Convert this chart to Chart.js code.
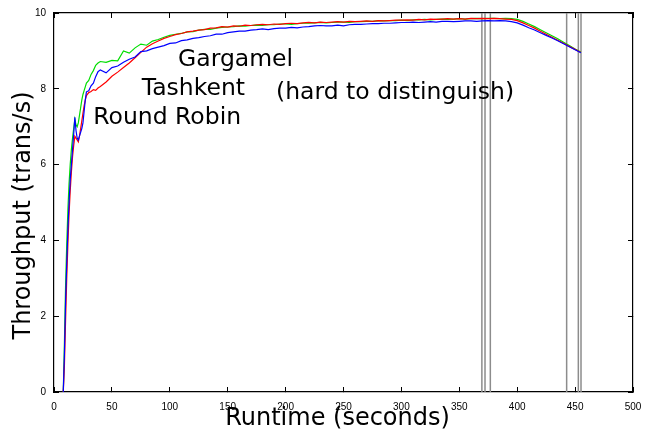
<!DOCTYPE html>
<html>
<head>
<meta charset="utf-8">
<script src="https://cdn.jsdelivr.net/npm/chart.js@4.4.1/dist/chart.umd.min.js"></script>
<style>
  html, body { margin: 0; padding: 0; background: #fff; }
  #grafico { display: block; }
</style>
</head>
<body>
<canvas id="grafico" width="648" height="431"></canvas>
<script>
// Tempo de execução (segundos)
const runtime = [8, 9, 10, 11, 12, 13, 14, 15, 16, 17, 18, 19, 20, 21, 22, 23, 24, 25, 26, 27, 28,
    30, 32, 34, 36, 38,
    40, 45, 50, 55, 60, 65, 70, 75, 80, 85, 90, 95, 100, 105, 110, 115, 120, 125, 130, 135,
    140, 145, 150, 155, 160, 165, 170, 175, 180, 185, 190, 195, 200, 205, 210, 215, 220, 225,
    230, 235, 240, 245, 250, 255, 260, 265, 270, 275, 280, 285, 290, 295, 300, 305, 310, 315,
    320, 325, 330, 335, 340, 345, 350, 355, 360, 365, 370, 375, 380, 385, 390, 395, 400, 405,
    410, 415, 420, 425, 430, 435, 440, 445, 450, 455];

// Vazão (trans/s) de cada escalonador
const roundRobin = [0, 1.0, 2.4, 3.4, 4.3, 5.0, 5.6, 6.0, 6.4, 6.8, 7.25, 6.9, 6.7, 6.65, 6.75, 6.85, 6.95, 7.1, 7.4, 7.7, 7.92,
    7.95, 8.08, 8.15, 8.32, 8.45,
    8.5, 8.42, 8.56, 8.6, 8.7, 8.78, 8.84, 8.98, 9.0, 9.06, 9.1, 9.14, 9.2, 9.21, 9.27, 9.29, 9.33, 9.35, 9.38, 9.4,
    9.44, 9.44, 9.48, 9.5, 9.52, 9.52, 9.55, 9.56, 9.58, 9.56, 9.59, 9.6, 9.6, 9.62, 9.61, 9.63, 9.64, 9.66,
    9.67, 9.66, 9.66, 9.68, 9.66, 9.69, 9.7, 9.7, 9.71, 9.72, 9.72, 9.73, 9.73, 9.74, 9.75, 9.75, 9.76, 9.75,
    9.76, 9.77, 9.76, 9.78, 9.78, 9.77, 9.78, 9.79, 9.79, 9.78, 9.79, 9.8, 9.79, 9.8, 9.79, 9.77, 9.74, 9.68,
    9.61, 9.55, 9.48, 9.41, 9.34, 9.27, 9.19, 9.11, 9.03, 8.95];

const tashkent = [0, 0.7, 1.9, 3.0, 3.9, 4.7, 5.3, 5.8, 6.2, 6.5, 6.75, 6.7, 6.65, 6.6, 6.75, 6.95, 7.15, 7.35, 7.55, 7.7, 7.82,
    7.9, 7.93, 7.98, 7.96, 8.02,
    8.06, 8.18, 8.33, 8.44, 8.56, 8.68, 8.82, 8.96, 9.1, 9.19, 9.26, 9.33, 9.38, 9.43, 9.46, 9.5, 9.52, 9.55, 9.56, 9.6,
    9.61, 9.64, 9.63, 9.66, 9.65, 9.68, 9.67, 9.69, 9.7, 9.69, 9.71, 9.7, 9.72, 9.73, 9.72, 9.74, 9.75, 9.74,
    9.76, 9.75, 9.76, 9.77, 9.76, 9.78, 9.77, 9.78, 9.79, 9.78, 9.8, 9.79, 9.8, 9.81, 9.81, 9.82, 9.81, 9.83,
    9.82, 9.84, 9.83, 9.84, 9.85, 9.84, 9.85, 9.84, 9.86, 9.85, 9.86, 9.85, 9.86, 9.85, 9.84, 9.83, 9.8, 9.74,
    9.67, 9.6, 9.52, 9.44, 9.36, 9.28, 9.2, 9.12, 9.04, 8.96];

const gargamel = [0, 1.3, 2.8, 3.9, 4.8, 5.5, 6.0, 6.4, 6.7, 6.95, 7.2, 7.05, 7.0, 7.1, 7.3, 7.5, 7.7, 7.85, 7.95, 8.05, 8.15,
    8.22, 8.38, 8.48, 8.62, 8.68,
    8.72, 8.7, 8.75, 8.74, 9.0, 8.94, 9.08, 9.18, 9.15, 9.26, 9.3, 9.36, 9.41, 9.44, 9.46, 9.5, 9.51, 9.55, 9.57, 9.57,
    9.6, 9.62, 9.63, 9.64, 9.66, 9.65, 9.67, 9.68, 9.67, 9.69, 9.69, 9.71, 9.71, 9.7, 9.72, 9.73, 9.73, 9.74,
    9.75, 9.74, 9.75, 9.76, 9.76, 9.75, 9.77, 9.77, 9.78, 9.78, 9.79, 9.79, 9.8, 9.8, 9.81, 9.8, 9.82, 9.82,
    9.83, 9.82, 9.83, 9.84, 9.83, 9.84, 9.85, 9.84, 9.85, 9.86, 9.85, 9.86, 9.86, 9.85, 9.86, 9.85, 9.83, 9.78,
    9.71, 9.64, 9.56, 9.48, 9.4, 9.32, 9.23, 9.14, 9.05, 8.97];

// Marcas verticais (segundos)
const marcas = [369.5, 372.2, 376.8, 442.7, 452.8, 455.1];

// Rótulos dos eixos
const ticksX = [0, 50, 100, 150, 200, 250, 300, 350, 400, 450, 500];
const ticksY = [0, 2, 4, 6, 8, 10];
const tituloX = 'Runtime (seconds)';
const tituloY = 'Throughput (trans/s)';

function serie(valores) {
    return runtime.map((x, i) => ({ x: x, y: valores[i] }));
}

function linha(nome, valores, cor) {
    return {
        label: nome,
        data: serie(valores),
        borderColor: cor,
        borderWidth: 1.2,
        pointRadius: 0,
        tension: 0,
        fill: false,
    };
}

const datasets = [
    linha('Round Robin', roundRobin, '#0000ff'),
    linha('Tashkent', tashkent, '#ff0000'),
    linha('Gargamel', gargamel, '#00dd00'),
];

marcas.forEach((m) => {
    datasets.push({
        label: 'marca',
        data: [{ x: m, y: ticksY[0] }, { x: m, y: ticksY[ticksY.length - 1] }],
        borderColor: '#8c8c8c',
        borderWidth: 1.5,
        pointRadius: 0,
        fill: false,
    });
});

// Textos dentro do gráfico (posição em coordenadas dos dados)
const anotacoes = [
    { texto: 'Gargamel', x: 107.1, y: 8.61 },
    { texto: 'Tashkent', x: 75.7, y: 7.84 },
    { texto: 'Round Robin', x: 33.9, y: 7.07 },
    { texto: '(hard to distinguish)', x: 191.7, y: 7.73 },
];

const pluginTextos = {
    id: 'textos',
    afterDatasetsDraw(chart) {
        const ctx = chart.ctx;
        const sx = chart.scales.x;
        const sy = chart.scales.y;
        ctx.save();
        ctx.font = '23.5px "DejaVu Sans"';
        ctx.fillStyle = '#000';
        ctx.textAlign = 'left';
        ctx.textBaseline = 'alphabetic';
        anotacoes.forEach((a) => {
            ctx.fillText(a.texto, sx.getPixelForValue(a.x), sy.getPixelForValue(a.y));
        });
        ctx.restore();
    }
};

// Títulos dos eixos (um pouco fora do centro, como no original)
const pluginTitulos = {
    id: 'titulos',
    afterDraw(chart) {
        const ctx = chart.ctx;
        const area = chart.chartArea;
        ctx.save();
        ctx.font = '24px "DejaVu Sans"';
        ctx.fillStyle = '#000';
        ctx.textAlign = 'center';
        ctx.textBaseline = 'middle';
        ctx.fillText(tituloX, (area.left + area.right) / 2 - 6, chart.height - 12);
        ctx.translate(24, (area.top + area.bottom) / 2 + 13);
        ctx.rotate(-Math.PI / 2);
        ctx.fillText(tituloY, 0, 0);
        ctx.restore();
    }
};

const fonteTicks = { family: '"Liberation Sans", Arial, sans-serif', size: 10 };
const gradeInterna = { drawOnChartArea: false, drawTicks: true, tickLength: -5, color: '#000', lineWidth: 1 };
const borda = { display: true, color: '#000', width: 1.2 };

function ticksFixos(valores) {
    return (scale) => {
        scale.ticks = valores.map((v) => ({ value: v }));
    };
}

// Tamanho fixo de cada eixo, sem folga extra para os rótulos
function tamanho(prop, valor) {
    return (s) => {
        s[prop] = valor;
        s.paddingLeft = 0;
        s.paddingRight = 0;
        s.paddingTop = 0;
        s.paddingBottom = 0;
    };
}

new Chart(document.getElementById('grafico').getContext('2d'), {
    type: 'line',
    data: { datasets: datasets },
    plugins: [pluginTextos, pluginTitulos],
    options: {
        responsive: false,
        animation: false,
        devicePixelRatio: 1,
        layout: { padding: { top: 13, right: 15, left: 0, bottom: 0 } },
        plugins: {
            legend: { display: false },
            tooltip: { enabled: false },
        },
        scales: {
            x: {
                type: 'linear',
                position: 'bottom',
                min: ticksX[0],
                max: ticksX[ticksX.length - 1],
                afterBuildTicks: ticksFixos(ticksX),
                ticks: { font: fonteTicks, color: '#000', padding: 14, maxRotation: 0 },
                grid: gradeInterna,
                border: borda,
                afterFit: tamanho('height', 39),
            },
            x2: {
                type: 'linear',
                position: 'top',
                min: ticksX[0],
                max: ticksX[ticksX.length - 1],
                afterBuildTicks: ticksFixos(ticksX),
                ticks: { display: false },
                grid: gradeInterna,
                border: borda,
                afterFit: tamanho('height', 0),
            },
            y: {
                type: 'linear',
                position: 'left',
                min: ticksY[0],
                max: ticksY[ticksY.length - 1],
                afterBuildTicks: ticksFixos(ticksY),
                ticks: { font: fonteTicks, color: '#000', padding: 13 },
                grid: gradeInterna,
                border: borda,
                afterFit: tamanho('width', 54),
            },
            y2: {
                type: 'linear',
                position: 'right',
                min: ticksY[0],
                max: ticksY[ticksY.length - 1],
                afterBuildTicks: ticksFixos(ticksY),
                ticks: { display: false },
                grid: gradeInterna,
                border: borda,
                afterFit: tamanho('width', 0),
            },
        },
    },
});
</script>
</body>
</html>
